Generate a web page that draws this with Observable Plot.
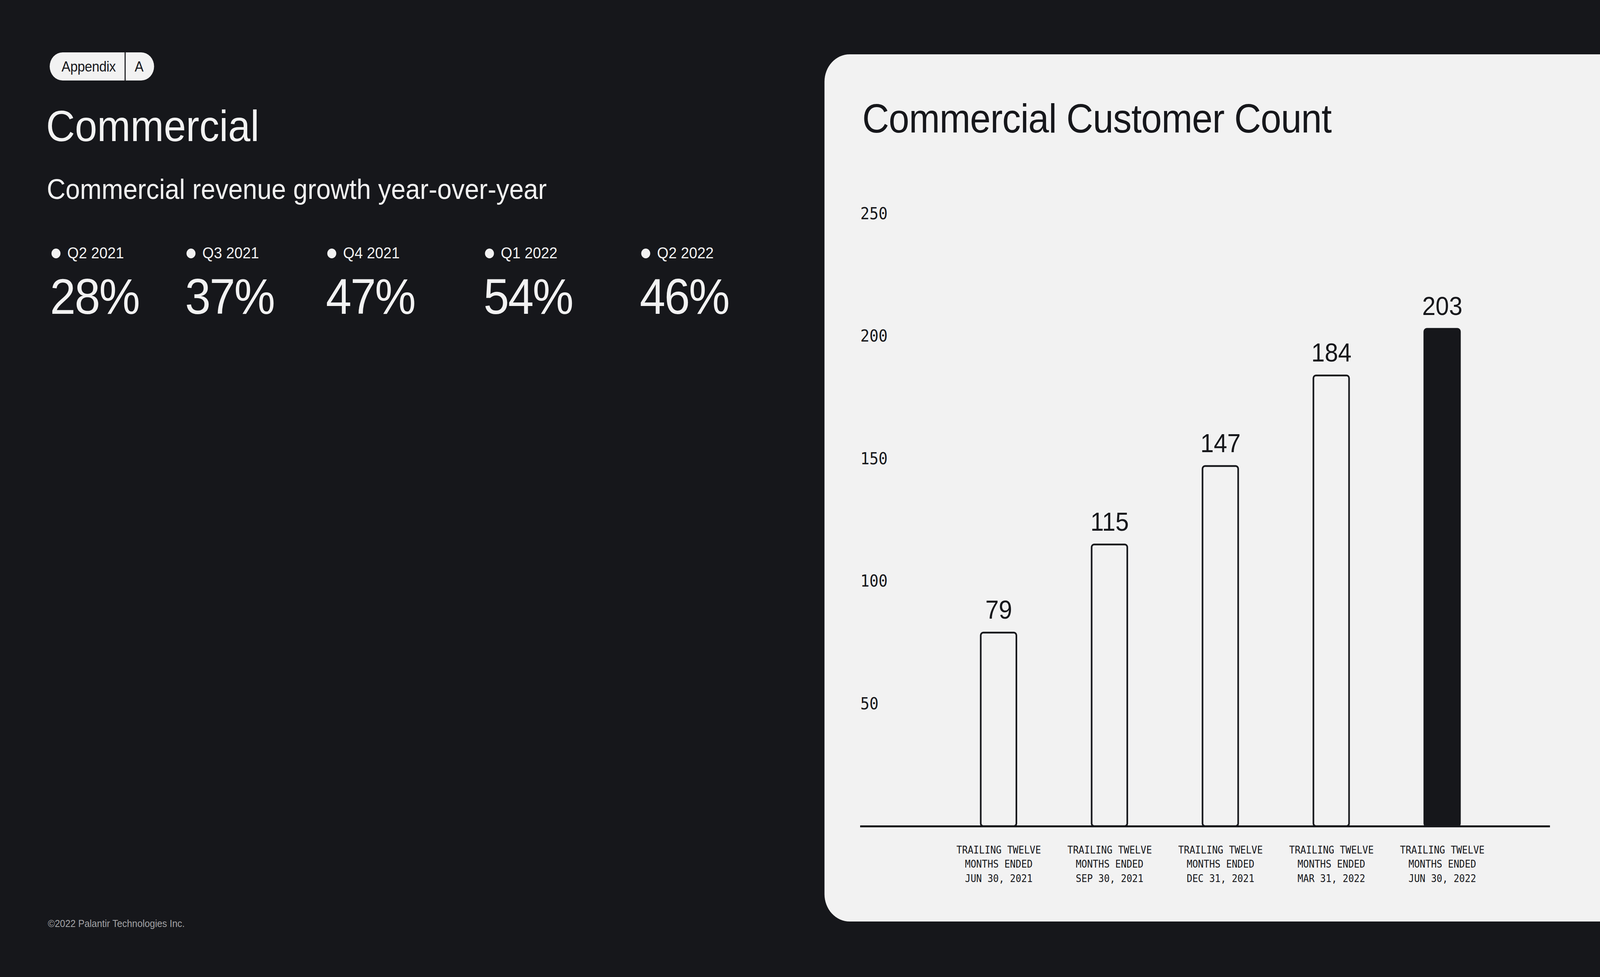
<!DOCTYPE html>
<html>
<head>
<meta charset="utf-8">
<script src="https://cdn.jsdelivr.net/npm/d3@7"></script>
<script src="https://cdn.jsdelivr.net/npm/@observablehq/plot@0.6"></script>
<style>
  html, body { margin: 0; padding: 0; width: 100%; height: 100%; overflow: hidden; background: #16171b; }
  body { font-family: "Liberation Sans", Arial, sans-serif; color: #f2f2f2; }
  #stage { position: absolute; left: 0; top: 0; width: 4444px; height: 2500px; transform-origin: 0 0; background: #16171b; }
  .abs { position: absolute; line-height: 1; white-space: nowrap; }
  #pill { position: absolute; left: 138px; top: 134px; width: 290px; height: 72px; border-radius: 36px;
          background: #f2f2f2; color: #16171b; }
  #pill .t1 { position: absolute; left: 33px; top: 18px; font-size: 37px; line-height: 1; letter-spacing: -0.5px; }
  #pill .div { position: absolute; left: 208px; top: 0; width: 3px; height: 72px; background: #16171b; }
  #pill .t2 { position: absolute; left: 236px; top: 18px; font-size: 37px; line-height: 1; }
  .bullet { position: absolute; width: 25px; height: 25px; border-radius: 50%; background: #f2f2f2; }
  #panel { position: absolute; left: 2290px; top: 139px; width: 2154px; height: 2219px;
           background: #f2f2f2; border-radius: 70px 0 0 70px; }
  #ptitle { position: absolute; left: 105px; top: 113px; font-size: 103px; line-height: 1; color: #16171b;
            letter-spacing: -1px; white-space: nowrap; }
  #chart { position: absolute; left: 0; top: 0; }
</style>
</head>
<body>
<div id="stage">
  <div id="pill"><span class="t1">Appendix</span><span class="div"></span><span class="t2">A</span></div>
  <div class="abs" style="left:128px; top:268px; font-size:111px;">Commercial</div>
  <div class="abs" style="left:130px; top:448px; font-size:72px;">Commercial revenue growth year-over-year</div>
  <div id="kpis"></div>
  <div class="abs" style="left:133px; top:2350px; font-size:26px; color:#a3a3a6;">©2022 Palantir Technologies Inc.</div>
  <div id="panel">
    <div id="ptitle">Commercial Customer Count</div>
    <div id="chart"></div>
  </div>
</div>
<script>
// ---- data ----
const quarters = ["Q2 2021", "Q3 2021", "Q4 2021", "Q1 2022", "Q2 2022"];
const growth = [28, 37, 47, 54, 46];
const periods = ["JUN 30, 2021", "SEP 30, 2021", "DEC 31, 2021", "MAR 31, 2022", "JUN 30, 2022"];
const customers = [79, 115, 147, 184, 203];
const periodPrefix = "TRAILING TWELVE\nMONTHS ENDED\n";
const yTicks = [50, 100, 150, 200, 250];

// ---- fit the 4444x2500 composition into the actual viewport ----
function fit() {
  const sx = window.innerWidth / 4444;
  const sy = window.innerHeight / 2500;
  document.getElementById("stage").style.transform = `scale(${sx}, ${sy})`;
}
fit();
window.addEventListener("resize", fit);

// ---- KPI row (left side) ----
const bulletX = [143, 518, 909, 1347, 1781];
const kpis = document.getElementById("kpis");
quarters.forEach((q, i) => {
  const b = document.createElement("div");
  b.className = "bullet";
  b.style.left = bulletX[i] + "px";
  b.style.top = "636px";
  kpis.appendChild(b);
  const l = document.createElement("div");
  l.className = "abs";
  l.style.left = (bulletX[i] + 44) + "px";
  l.style.top = "627px";
  l.style.fontSize = "41px";
  l.textContent = q;
  kpis.appendChild(l);
  const p = document.createElement("div");
  p.className = "abs";
  p.style.left = (bulletX[i] - 4) + "px";
  p.style.top = "695px";
  p.style.fontSize = "128px";
  p.style.letterSpacing = "-3px";
  p.textContent = growth[i] + "%";
  kpis.appendChild(p);
});

// ---- chart ----
const dark = "#16171b";
const panelBg = "#f2f2f2";
const data = periods.map((p, i) => ({period: p, value: customers[i]}));
const last = periods[periods.length - 1];

const chart = Plot.plot({
  width: 2154,
  height: 2219,
  marginLeft: 99,
  marginRight: 139,
  marginTop: 408,
  marginBottom: 244,
  style: {background: "transparent", color: dark},
  x: {domain: periods, range: [327.5, 1871.5], paddingInner: 0.68, paddingOuter: 0.34},
  y: {domain: [0, 250]},
  marks: [
    Plot.barY(data, {
      x: "period", y: "value",
      fill: d => d.period === last ? dark : panelBg,
      stroke: dark, strokeWidth: 4.5, rx: 7
    }),
    Plot.ruleY([0], {stroke: dark, strokeWidth: 5}),
    Plot.text(data, {
      x: "period", y: "value", text: d => String(d.value),
      lineAnchor: "bottom", dy: -36, fontSize: 67,
      fontFamily: "Liberation Sans, Arial, sans-serif", fill: dark
    }),
    Plot.axisY({
      ticks: yTicks, tickSize: 0, tickPadding: 0, textAnchor: "start",
      fontSize: 42, fontFamily: "DejaVu Sans Mono, monospace", fill: dark, label: null
    }),
    Plot.axisX({
      tickSize: 0, tickPadding: 43, lineHeight: 1.41,
      tickFormat: d => periodPrefix + d,
      fontSize: 26, fontFamily: "DejaVu Sans Mono, monospace", fill: dark, label: null
    })
  ]
});
document.getElementById("chart").appendChild(chart);
</script>
</body>
</html>
